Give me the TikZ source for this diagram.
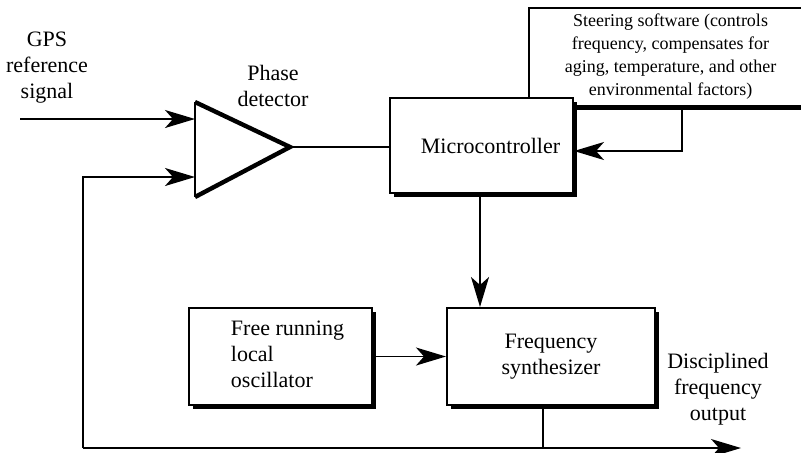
\documentclass[tikz,border=0pt]{standalone}
\usepackage{fontspec}
\setmainfont{Liberation Serif}
\usetikzlibrary{arrows.meta,shadows}
\begin{document}
\begin{tikzpicture}[x=0.5pt,y=-0.5pt,>={Stealth[length=15pt,width=9pt,inset=4pt]},
	line width=0.9pt,
	txt/.style={font=\fontsize{11}{13}\selectfont,align=center,inner sep=0pt},
	blk/.style={draw,fill=white,line width=1pt,inner sep=0pt,font=\fontsize{11}{13}\selectfont,align=center,
		general shadow={fill=black,shadow xshift=2pt,shadow yshift=-2pt}}]
	\useasboundingbox (0,0) rectangle (801,452);
	\clip (0,0) rectangle (801,452);
	% blocks
	\node[blk,minimum width=141.5pt,minimum height=49pt,font=\fontsize{9}{11.5}\selectfont] (steer) at (670.5,57)
		{Steering software (controls\\frequency, compensates for\\aging, temperature, and other\\environmental factors)};
	\node[blk,minimum width=91.5pt,minimum height=47.5pt] (micro) at (481.5,145.5) {\hspace{9pt}Microcontroller};
	\node[blk,minimum width=91.5pt,minimum height=48.5pt,align=left] (free) at (280.5,356.5) {\hspace{7pt}\begin{tabular}{@{}l@{}}Free running\\local\\oscillator\end{tabular}};
	\node[blk,minimum width=104pt,minimum height=48.5pt] (synth) at (551,356.5) {Frequency\\synthesizer};
	% labels
	\node[txt] (gps) at (47,68) {GPS\\reference\\signal};
	\node[txt] (pdlbl) at (273,86) {Phase\\detector};
	\node[txt] (outlbl) at (718,389) {Disciplined\\frequency\\output};
	% phase detector
	\coordinate (pdtop) at (195,102);
	\coordinate (pdbot) at (195,197);
	\coordinate (pdout) at (290,147);
	\draw (pdtop) -- (pdbot);
	\draw[line width=2.2pt,line join=miter] (pdtop) -- (pdout) -- (pdbot);
	% connectors
	\coordinate (gpsin) at (20,119);
	\coordinate (pdin1) at (195,119);
	\coordinate (pdin2) at (195,177);
	\coordinate (fbleft) at (83,448);
	\coordinate (outjoin) at (543,448);
	\coordinate (outend) at (741,448);
	\coordinate (ctl) at (480,0);
	\coordinate (swin) at (682,151);
	\draw[->] (gpsin) -- (pdin1);
	\draw (pdout) -- (micro.west |- pdout);
	\draw[->] (steer.south -| swin) |- (micro.east |- swin);
	\draw[->] (micro.south -| ctl) -- (synth.north -| ctl);
	\draw[->] (free.east) -- (synth.west);
	\draw (outjoin |- synth.south) -- (outjoin);
	\draw[->] (fbleft) -- (outend);
	\draw[->] (fbleft) |- (pdin2);
\end{tikzpicture}
\end{document}
